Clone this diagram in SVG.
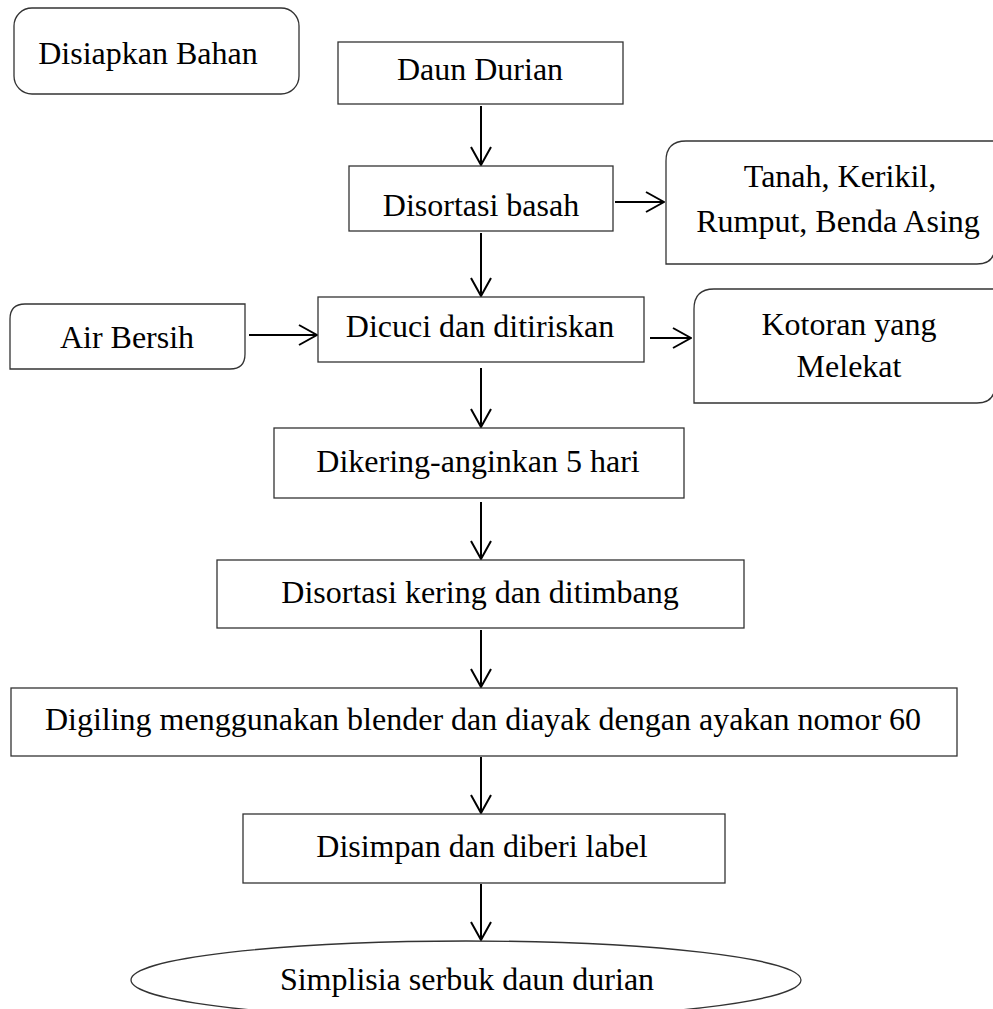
<svg xmlns="http://www.w3.org/2000/svg" width="993" height="1009" viewBox="0 0 993 1009">
<defs>
<style>
.box{fill:#fff;stroke:#333;stroke-width:1.3}
.t{font-family:"Liberation Serif","Times New Roman",serif;font-size:32px;fill:#000;text-anchor:middle}
.c{stroke:#000;stroke-width:2;fill:none;marker-end:url(#ah)}
</style>
<marker id="ah" viewBox="0 0 20 22" refX="19" refY="11" markerWidth="20" markerHeight="22" markerUnits="userSpaceOnUse" orient="auto">
<path d="M1,1 L19,11 L1,21" fill="none" stroke="#000" stroke-width="2"/>
</marker>
</defs>
<rect width="993" height="1009" fill="#fff"/>
<g id="connectors">
<line class="c" x1="481" y1="106" x2="481" y2="165"/>
<line class="c" x1="481" y1="233" x2="481" y2="296"/>
<line class="c" x1="481" y1="368" x2="481" y2="427"/>
<line class="c" x1="481" y1="502" x2="481" y2="559"/>
<line class="c" x1="481" y1="630" x2="481" y2="687"/>
<line class="c" x1="481" y1="757" x2="481" y2="813"/>
<line class="c" x1="481" y1="884" x2="481" y2="940"/>
<line class="c" x1="615" y1="202" x2="664" y2="202"/>
<line class="c" x1="249" y1="335" x2="317" y2="335"/>
<line class="c" x1="650" y1="338" x2="691" y2="338"/>
</g>
<g id="n-disiapkan">
<rect class="box" x="14" y="8" width="285" height="86" rx="18"/>
<text class="t" x="148" y="64">Disiapkan Bahan</text>
</g>
<g id="n-daun">
<rect class="box" x="338" y="42" width="285" height="62"/>
<text class="t" x="480" y="80">Daun Durian</text>
</g>
<g id="n-sortasi-basah">
<rect class="box" x="349" y="166" width="264" height="65"/>
<text class="t" x="481" y="216">Disortasi basah</text>
</g>
<g id="n-tanah">
<path class="box" d="M666,161 Q666,141 686,141 L995,141 L995,246 Q995,264 977,264 L666,264 Z"/>
<text class="t" x="840" y="187">Tanah, Kerikil,</text>
<text class="t" x="838" y="232">Rumput, Benda Asing</text>
</g>
<g id="n-air">
<path class="box" d="M10,319 Q10,304 25,304 L245,304 L245,354 Q245,369 230,369 L10,369 Z"/>
<text class="t" x="127" y="348">Air Bersih</text>
</g>
<g id="n-dicuci">
<rect class="box" x="318" y="297" width="326" height="65"/>
<text class="t" x="480" y="337">Dicuci dan ditiriskan</text>
</g>
<g id="n-kotoran">
<path class="box" d="M694,309 Q694,289 714,289 L995,289 L995,385 Q995,403 977,403 L694,403 Z"/>
<text class="t" x="849" y="335">Kotoran yang</text>
<text class="t" x="849" y="377">Melekat</text>
</g>
<g id="n-dikering">
<rect class="box" x="274" y="428" width="410" height="70"/>
<text class="t" x="478" y="472">Dikering-anginkan 5 hari</text>
</g>
<g id="n-sortasi-kering">
<rect class="box" x="217" y="560" width="527" height="68"/>
<text class="t" x="480" y="603">Disortasi kering dan ditimbang</text>
</g>
<g id="n-digiling">
<rect class="box" x="11" y="688" width="946" height="68"/>
<text class="t" x="483" y="730">Digiling menggunakan blender dan diayak dengan ayakan nomor 60</text>
</g>
<g id="n-disimpan">
<rect class="box" x="243" y="814" width="482" height="69"/>
<text class="t" x="482" y="857">Disimpan dan diberi label</text>
</g>
<g id="n-simplisia">
<ellipse class="box" cx="466" cy="980" rx="335" ry="39"/>
<text class="t" x="467" y="990">Simplisia serbuk daun durian</text>
</g>
</svg>
